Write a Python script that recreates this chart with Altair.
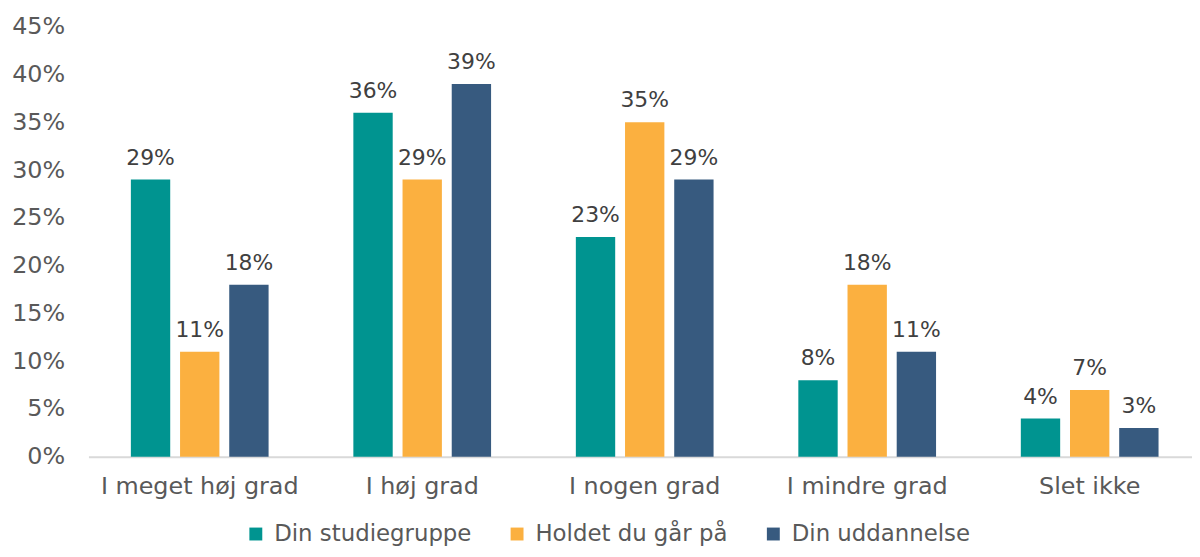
import altair as alt
import pandas as pd

categories = ["I meget høj grad", "I høj grad", "I nogen grad", "I mindre grad", "Slet ikke"]
series = ["Din studiegruppe", "Holdet du går på", "Din uddannelse"]
studiegruppe = [29, 36, 23, 8, 4]
holdet = [11, 29, 35, 18, 7]
uddannelse = [18, 39, 29, 11, 3]
colors = ["#009490", "#FBB040", "#375A7F"]

rows = []
for s, vals in zip(series, [studiegruppe, holdet, uddannelse]):
    for c, v in zip(categories, vals):
        rows.append({"Kategori": c, "Serie": s, "Værdi": v / 100, "Label": f"{v}%"})
df = pd.DataFrame(rows)

FONT = "DejaVu Sans"

x = alt.X("Kategori:N", sort=categories, title=None,
          scale=alt.Scale(paddingInner=0.381, paddingOuter=0.1705, align=0.559),
          axis=alt.Axis(labelAngle=0, labelFontSize=24, labelColor="#595959", labelFont=FONT,
                        ticks=False, domainColor="#d9d9d9", domainWidth=2, labelPadding=18,
                        labelLimit=0))
xo = alt.XOffset("Serie:N", sort=series, scale=alt.Scale(paddingInner=0.2, paddingOuter=0))
y = alt.Y("Værdi:Q", title=None,
          scale=alt.Scale(domain=[0, 0.45], nice=False),
          axis=alt.Axis(format=".0%", values=[i / 100 for i in range(0, 50, 5)], grid=False,
                        domain=False, ticks=False, labelFontSize=24, labelColor="#595959",
                        labelFont=FONT, labelPadding=24))
color = alt.Color("Serie:N", sort=series, scale=alt.Scale(domain=series, range=colors),
                  legend=alt.Legend(title=None, orient="none", direction="horizontal",
                                    legendX=157, legendY=499, symbolType="square", symbolSize=169,
                                    symbolStrokeWidth=0, labelFontSize=23, labelColor="#595959",
                                    labelFont=FONT, columnPadding=34, labelOffset=7, padding=0,
                                    labelLimit=0))

bars = alt.Chart(df).mark_bar().encode(x=x, xOffset=xo, y=y, color=color)
text = alt.Chart(df).mark_text(baseline="alphabetic", dy=-15, fontSize=22, color="#404040", font=FONT).encode(
    x=alt.X("Kategori:N", sort=categories), xOffset=alt.XOffset("Serie:N", sort=series),
    y="Værdi:Q", text="Label:N")

chart = (bars + text).properties(
    width=1111, height=433,
    autosize=alt.AutoSizeParams(type="none"),
    padding={"left": 81, "top": 17, "right": 0, "bottom": 91},
).configure_view(stroke=None)

chart.save("out.html", embed_options={"renderer": "svg", "actions": False})
